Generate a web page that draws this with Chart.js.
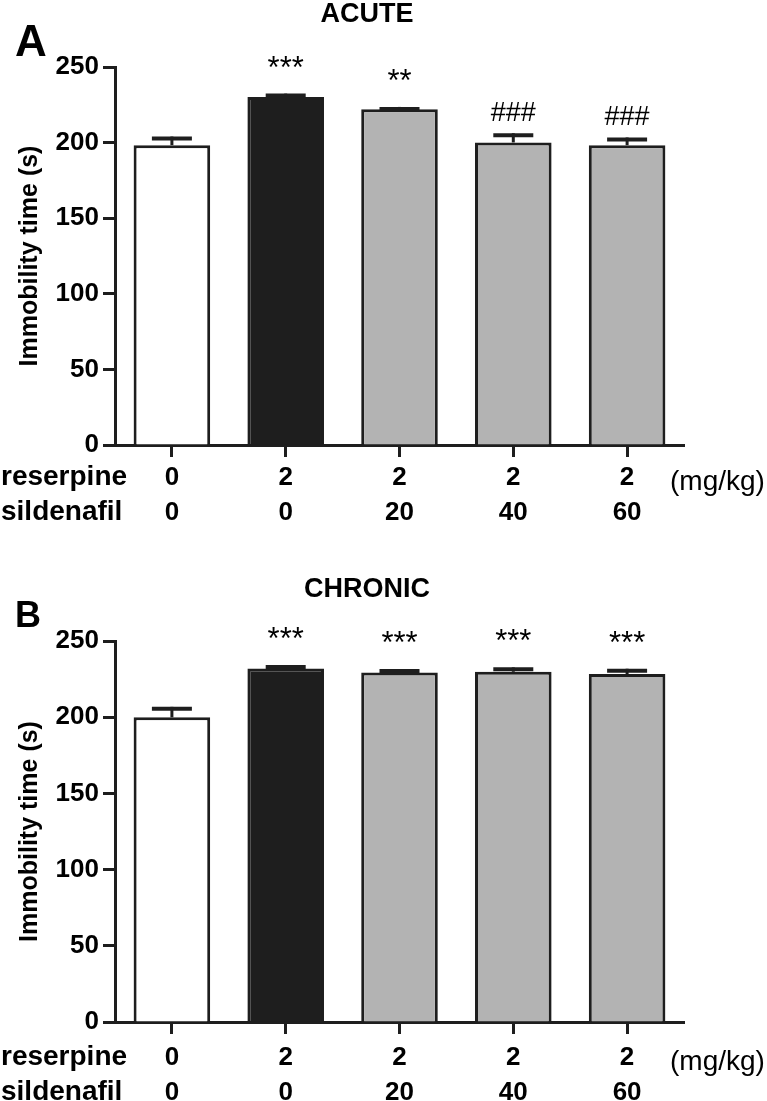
<!DOCTYPE html>
<html>
<head>
<meta charset="utf-8">
<title>Immobility time - acute / chronic</title>
<script src="https://cdn.jsdelivr.net/npm/chart.js@4.4.1/dist/chart.umd.min.js"></script>
<style>
html, body { margin: 0; padding: 0; background: #fff; }
#wrap { position: relative; width: 767px; height: 1101px; overflow: hidden; }
.panel { position: absolute; left: 0; width: 767px; }
</style>
</head>
<body>
<div id="wrap">
  <div class="panel" style="top:0;height:550px"><canvas id="chartA"></canvas></div>
  <div class="panel" style="top:550px;height:551px"><canvas id="chartB"></canvas></div>
</div>
<script>
// groups: doses in mg/kg
const reserpine = ['0', '2', '2', '2', '2'];
const sildenafil = ['0', '0', '20', '40', '60'];
const rowNames = ['reserpine', 'sildenafil'];
const unitLabel = '(mg/kg)';

// immobility time (s): mean + SEM
const acuteMean = [198.3, 230.2, 222.1, 200.1, 198.3];
const acuteSem = [5.7, 2.2, 1.5, 6.1, 5.1];
const acuteSig = ['', '***', '**', '###', '###'];

const chronicMean = [199.9, 232.0, 229.4, 229.8, 228.3];
const chronicSem = [6.9, 2.2, 2.2, 2.9, 3.5];
const chronicSig = ['', '***', '***', '***', '***'];

const yTicks = [0, 50, 100, 150, 200, 250];

const ink = '#1e1e1e';
const fontFamily = '"Liberation Sans", Arial, Helvetica, sans-serif';
const barColors = ['#ffffff', '#1e1e1e', '#b3b3b3', '#b3b3b3', '#b3b3b3'];
const rowHeight = 35;
const tickLen = 12;

// error bars (upper half only) + significance marks
const errorBars = {
  id: 'errorBars',
  afterDatasetsDraw(chart) {
    const o = chart.options.plugins.errorBars;
    const y = chart.scales.y;
    const ctx = chart.ctx;
    ctx.save();
    ctx.strokeStyle = ink;
    ctx.fillStyle = '#000';
    chart.getDatasetMeta(0).data.forEach((bar, i) => {
      const top = y.getPixelForValue(o.mean[i] + o.sem[i]);
      ctx.lineWidth = 3;
      ctx.beginPath();
      ctx.moveTo(bar.x, bar.y);
      ctx.lineTo(bar.x, top);
      ctx.stroke();
      ctx.lineWidth = 4;
      ctx.beginPath();
      ctx.moveTo(bar.x - 20, top + 2);
      ctx.lineTo(bar.x + 20, top + 2);
      ctx.stroke();
      const s = o.sig[i];
      if (s) {
        const star = s[0] === '*';
        ctx.font = (star ? 31 : 27) + 'px ' + fontFamily;
        ctx.textAlign = 'center';
        ctx.textBaseline = 'alphabetic';
        ctx.fillText(s, bar.x, top - (star ? 16 : 12));
      }
    });
    ctx.restore();
  }
};

// panel letter, title, row names under the x axis
const decor = {
  id: 'decor',
  afterDraw(chart) {
    const o = chart.options.plugins.decor;
    const ctx = chart.ctx;
    const row0 = chart.scales.x.top + tickLen + o.tickPad + rowHeight / 2;
    ctx.save();
    ctx.fillStyle = '#000';
    ctx.textBaseline = 'alphabetic';
    ctx.textAlign = 'left';
    ctx.font = 'bold ' + o.letterSize + 'px ' + fontFamily;
    ctx.fillText(o.letter, 15, o.letterBase);
    ctx.textAlign = 'center';
    ctx.font = 'bold 27px ' + fontFamily;
    ctx.fillText(o.title, 367, o.titleBase);
    ctx.textAlign = 'left';
    ctx.textBaseline = 'middle';
    ctx.font = 'bold 28px ' + fontFamily;
    rowNames.forEach((t, k) => ctx.fillText(t, 1, row0 + k * rowHeight));
    ctx.font = '28px ' + fontFamily;
    ctx.fillText(unitLabel, 670, row0 + 5);
    ctx.restore();
  }
};

function makePanel(id, mean, sem, sig, p) {
  return new Chart(document.getElementById(id), {
    type: 'bar',
    data: {
      labels: reserpine.map((r, i) => [r, sildenafil[i]]),
      datasets: [{
        data: mean,
        backgroundColor: barColors,
        borderColor: ink,
        borderWidth: 3,
        borderSkipped: 'start',
        barPercentage: 0.673,
        categoryPercentage: 1
      }]
    },
    options: {
      responsive: true,
      maintainAspectRatio: false,
      animation: false,
      devicePixelRatio: 1,
      layout: { padding: { top: p.top, right: 83, bottom: 0, left: 0 } },
      plugins: {
        legend: { display: false },
        tooltip: { enabled: false },
        errorBars: { mean: mean, sem: sem, sig: sig },
        decor: p
      },
      scales: {
        x: {
          border: { color: ink, width: 3 },
          grid: { display: true, drawOnChartArea: false, offset: false, tickLength: tickLen, tickWidth: 3, tickColor: ink, color: ink },
          ticks: {
            color: '#000', autoSkip: false, maxRotation: 0, padding: p.tickPad,
            font: { family: fontFamily, size: 26, weight: 'bold', lineHeight: rowHeight / 26 }
          },
          afterFit: s => { s.height = p.xHeight; }
        },
        y: {
          min: 0,
          max: 250,
          border: { color: ink, width: 3 },
          grid: { display: true, drawOnChartArea: false, tickLength: tickLen, tickWidth: 3, tickColor: ink, color: ink },
          ticks: { color: '#000', padding: 4, font: { family: fontFamily, size: 26, weight: 'bold' } },
          afterBuildTicks: s => { s.ticks = yTicks.map(v => ({ value: v })); },
          afterFit: s => { s.width = 115; },
          title: {
            display: true,
            text: 'Immobility time (s)',
            color: '#000',
            font: { family: fontFamily, size: 25, weight: 'bold', lineHeight: 1.2 },
            padding: { top: 15, bottom: 0 }
          }
        }
      }
    },
    plugins: [errorBars, decor]
  });
}

makePanel('chartA', acuteMean, acuteSem, acuteSig,
  { top: 67, xHeight: 105, tickPad: 3, letter: 'A', letterSize: 44, letterBase: 56, title: 'ACUTE', titleBase: 22 });
makePanel('chartB', chronicMean, chronicSem, chronicSig,
  { top: 91, xHeight: 79, tickPad: 6, letter: 'B', letterSize: 36, letterBase: 77, title: 'CHRONIC', titleBase: 47 });
</script>
</body>
</html>
